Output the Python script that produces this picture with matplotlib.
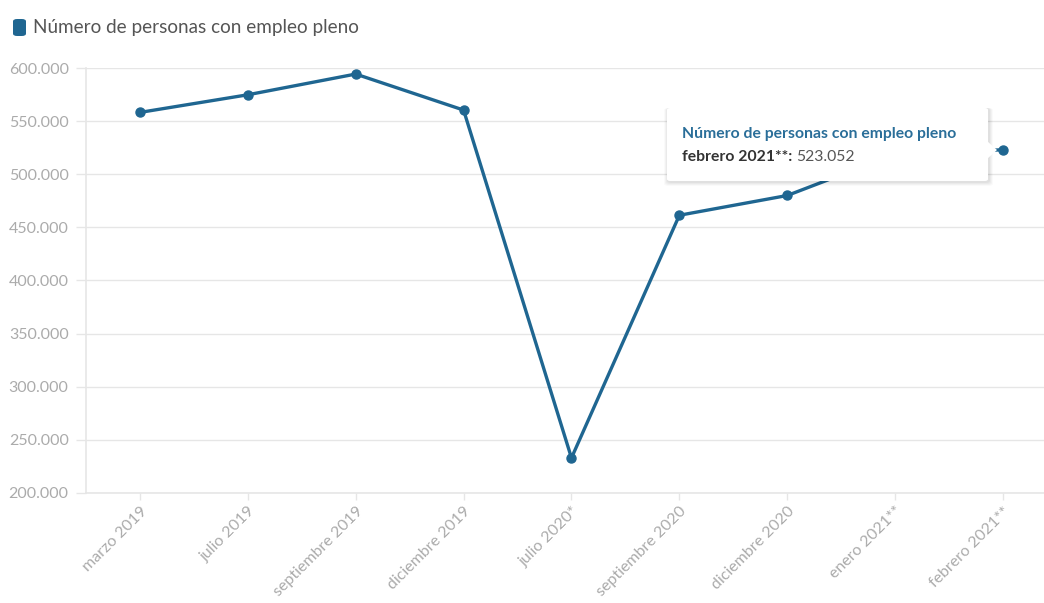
import matplotlib.pyplot as plt
from matplotlib.patches import FancyBboxPatch, Polygon
from matplotlib.ticker import FuncFormatter

plt.rcParams['font.family'] = ['Lato', 'DejaVu Sans']

# Número de personas con empleo pleno
periodos = ['marzo 2019', 'julio 2019', 'septiembre 2019', 'diciembre 2019',
            'julio 2020*', 'septiembre 2020', 'diciembre 2020',
            'enero 2021**', 'febrero 2021**']
personas = [558200, 574800, 594300, 560400, 233000, 461400, 480000,
            518900, 523052]
y_ticks = [200000, 250000, 300000, 350000, 400000, 450000, 500000,
           550000, 600000]

serie = 'Número de personas con empleo pleno'
azul = '#1f6691'
gris_texto = '#ababab'
gris_linea = '#e6e6e6'

W, H = 1044, 603
fig = plt.figure(figsize=(W / 100, H / 100), dpi=100)
fig.patch.set_facecolor('white')

# axes box in pixels: left 86, right 1044, top 68, bottom 493
ax = fig.add_axes([86 / W, 1 - 493 / H, (1044 - 86) / W, (493 - 68) / H])

x = list(range(len(periodos)))
ax.plot(x, personas, color=azul, lw=2.4, marker='o', ms=6.5,
        solid_joinstyle='round', clip_on=False, zorder=3)

ax.set_xlim(-0.5, 8 + 41 / 107.9)
ax.set_ylim(y_ticks[0], y_ticks[-1])
ax.set_yticks(y_ticks)
ax.yaxis.set_major_formatter(FuncFormatter(lambda v, p: f'{v:,.0f}'.replace(',', '.')))
ax.set_xticks(x)
ax.set_xticklabels(periodos, rotation=45, ha='right', va='top',
                   rotation_mode='anchor')

ax.grid(axis='y', color=gris_linea, lw=1)
ax.set_axisbelow(True)
for side in ['top', 'right']:
    ax.spines[side].set_visible(False)
for side in ['left', 'bottom']:
    ax.spines[side].set_color(gris_linea)
    ax.spines[side].set_linewidth(1.2)
ax.tick_params(axis='both', colors=gris_linea, labelcolor=gris_texto,
               labelsize=11.5, width=1)
ax.tick_params(axis='x', length=5, pad=3)
ax.tick_params(axis='y', length=7, pad=5.5)

# legend entry at the top left
fig.patches.append(FancyBboxPatch((13 / W, 1 - 36 / H), 13 / W, 17 / H,
                                  boxstyle='round,pad=0,rounding_size=0.004',
                                  transform=fig.transFigure, fc=azul, ec='none'))
fig.text(33 / W, 1 - 27 / H, serie, fontsize=13.6, color='#555555',
         va='center', ha='left')

# tooltip for the last point
bx0, by0, bx1, by1 = 667, 108, 988, 181
for off, a in [(5, 0.02), (4, 0.03), (3, 0.03), (2, 0.04)]:
    fig.patches.append(FancyBboxPatch(((bx0 - off + 2) / W, 1 - (by1 + off) / H),
                                      (bx1 - bx0 + 2 * off - 2) / W,
                                      (by1 - by0 + off) / H,
                                      boxstyle='round,pad=0,rounding_size=0.004',
                                      transform=fig.transFigure, fc='black',
                                      ec='none', alpha=a, zorder=5))
fig.patches.append(FancyBboxPatch((bx0 / W, 1 - by1 / H), (bx1 - bx0) / W,
                                  (by1 - by0) / H,
                                  boxstyle='round,pad=0,rounding_size=0.003',
                                  transform=fig.transFigure, fc='white',
                                  ec='none', zorder=6))
fig.patches.append(Polygon([((bx1 - 1) / W, 1 - 141 / H), (997 / W, 1 - 150 / H),
                            ((bx1 - 1) / W, 1 - 159 / H)], closed=True,
                           transform=fig.transFigure, fc='white', ec='none',
                           zorder=6))

fig.text(682 / W, 1 - 134 / H, serie, fontsize=11.3, fontweight='bold',
         color='#2a6e99', va='center', ha='left', zorder=7)
t1 = fig.text(682 / W, 1 - 157 / H, f'{periodos[-1]}:', fontsize=11.3,
              fontweight='bold', color='#333333', va='center', ha='left',
              zorder=7)
fig.canvas.draw()
ext = t1.get_window_extent()
valor = f'{personas[-1]:,.0f}'.replace(',', '.')
fig.text(ext.x1 / W + 4 / W, 1 - 157 / H, valor, fontsize=11.3,
         color='#555555', va='center', ha='left', zorder=7)

fig.savefig('out.png', dpi=100, facecolor='white')
